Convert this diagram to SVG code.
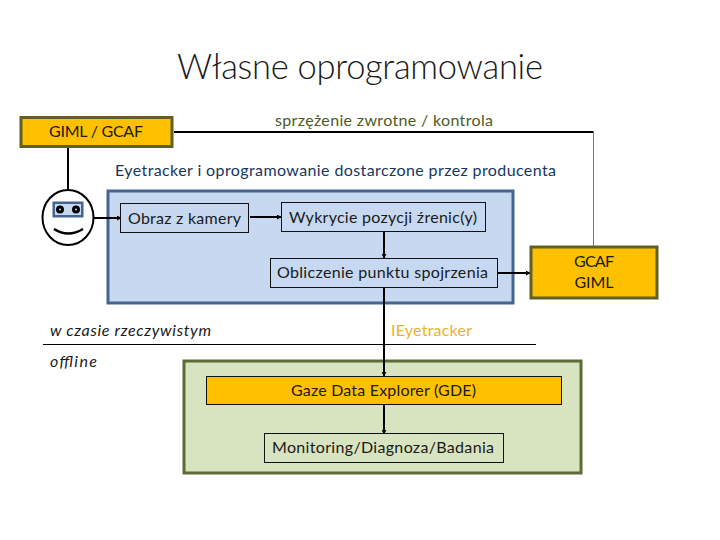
<svg xmlns="http://www.w3.org/2000/svg" width="720" height="540" viewBox="0 0 720 540">
<style>
text{font-family:"Lato","Liberation Sans",sans-serif;font-size:16px;text-anchor:middle;fill:#1a1a1a}
.gold{fill:#ffc000;stroke:#5f5f26;stroke-width:3}
.blue{fill:#c6d9f1;stroke:#44658f;stroke-width:3}
.green{fill:#d8e3bf;stroke:#5f6b36;stroke-width:3}
.box{fill:#c6d9f1;stroke:#111;stroke-width:1}
.c{fill:none;stroke:#000;stroke-width:2}
</style>
<defs><marker id="a" viewBox="0 0 6 6" refX="5" refY="3" markerWidth="2.500" markerHeight="2.500" orient="auto"><path d="M0 0L6 3L0 6z" fill="#000"/></marker></defs>
<rect width="720" height="540" fill="#fff"/>
<text x="360" y="79" textLength="366" style="font-size:34.500px;font-weight:300">Własne oprogramowanie</text>
<g id="panel-realtime"><rect class="blue" x="108" y="191" width="405" height="112"/></g>
<g id="panel-offline"><rect class="green" x="184" y="361" width="397" height="112"/></g>
<g id="connectors">
<path class="c" d="M174 132H593.500"/>
<path d="M593.500 132V247" fill="none" stroke="#5f7d9c" stroke-width="1"/>
<path class="c" d="M68 148V189"/>
<path class="c" d="M94 218H121" marker-end="url(#a)"/>
<path class="c" d="M250 217H281" marker-end="url(#a)"/>
<path class="c" d="M384 232V258" marker-end="url(#a)"/>
<path class="c" d="M384 288V376" marker-end="url(#a)"/>
<path class="c" d="M384 405V434" marker-end="url(#a)"/>
<path class="c" d="M498 273H530" marker-end="url(#a)"/>
<path d="M43 344.500H536" stroke="#000" stroke-width="1"/>
</g>
<g id="node-giml-gcaf"><rect class="gold" x="21" y="117.500" width="151" height="29"/><text x="96" y="137" textLength="94">GIML / GCAF</text></g>
<g id="label-feedback"><text x="384" y="126" textLength="218" style="fill:#4f5a24">sprzężenie zwrotne / kontrola</text></g>
<g id="label-eyetracker"><text x="335.500" y="176" textLength="441" style="fill:#17365d">Eyetracker i oprogramowanie dostarczone przez producenta</text></g>
<g id="face">
<ellipse cx="68" cy="217.500" rx="25.500" ry="27.500" fill="#fff" stroke="#000" stroke-width="2"/>
<rect x="52.500" y="201.500" width="31" height="16" fill="#44658f"/>
<rect x="55" y="204" width="26" height="11" fill="#c6d9f1"/>
<circle cx="60" cy="209.500" r="4" fill="#000"/><circle cx="76" cy="209.500" r="4" fill="#000"/>
<circle cx="60" cy="209.500" r="1" fill="#c6d9f1"/><circle cx="76" cy="209.500" r="1" fill="#c6d9f1"/>
<path d="M54 229Q68 238 83 229" fill="none" stroke="#000" stroke-width="2.500"/>
</g>
<g id="node-obraz"><rect class="box" x="120.500" y="203.500" width="128" height="29"/><text x="184.500" y="224" textLength="113">Obraz z kamery</text></g>
<g id="node-wykrycie"><rect class="box" x="281.500" y="202.500" width="204" height="29"/><text x="383" y="223" textLength="188">Wykrycie pozycji źrenic(y)</text></g>
<g id="node-obliczenie"><rect class="box" x="270.500" y="258.500" width="227" height="29"/><text x="382.500" y="278" textLength="211">Obliczenie punktu spojrzenia</text></g>
<g id="node-gcaf-giml"><rect class="gold" x="531" y="247" width="126" height="51"/><text x="594" y="267" textLength="40">GCAF</text><text x="594" y="288" textLength="39">GIML</text></g>
<g id="label-realtime"><text x="130.500" y="336" textLength="161" style="font-style:italic">w czasie rzeczywistym</text></g>
<g id="label-offline"><text x="73.500" y="367" textLength="47" style="font-style:italic">offline</text></g>
<g id="label-ieyetracker"><text x="431.500" y="336" textLength="81" style="fill:#e6b51f">IEyetracker</text></g>
<g id="node-gde"><rect x="206.500" y="376.500" width="355" height="28" fill="#ffc000" stroke="#111" stroke-width="1"/><text x="383.500" y="396" textLength="185">Gaze Data Explorer (GDE)</text></g>
<g id="node-monitoring"><rect x="264.500" y="433.500" width="239" height="29" fill="#d8e3bf" stroke="#111" stroke-width="1"/><text x="383" y="453" textLength="222">Monitoring/Diagnoza/Badania</text></g>
</svg>
